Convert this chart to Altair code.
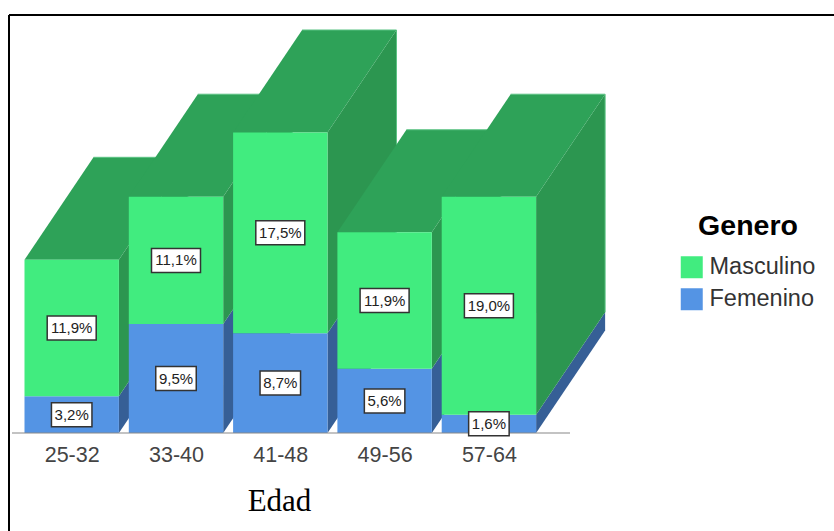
import altair as alt
import pandas as pd

# Survey shares (%) by age group and sex
edades = ["25-32", "33-40", "41-48", "49-56", "57-64"]
femenino = [3.2, 9.5, 8.7, 5.6, 1.6]
masculino = [11.9, 11.1, 17.5, 11.9, 19.0]
generos = ["Masculino", "Femenino"]

FRONT = {"Masculino": "#41EC7F", "Femenino": "#5494E4"}
SIDE = {"Masculino": "#2C9650", "Femenino": "#365F96"}
TOP = "#2EA258"
EDGE = "#5CC384"
INK = "#222222"

PX_X = 104.3           # pixels per age group
PX_Y = 11.47           # pixels per percentage point
HALF = 47.2 / PX_X     # half bar width, in age-group units
DX = 69 / PX_X         # oblique depth, horizontal
DY = 102.5 / PX_Y      # oblique depth, vertical
C0 = 71.7              # pixel position of the first group's centre
W, H = 834, 433

x_scale = alt.Scale(domain=[-C0 / PX_X, (W - C0) / PX_X], range=[0, W], nice=False, zero=False)
y_scale = alt.Scale(domain=[0, H / PX_Y], range=[H, 0], nice=False, zero=False)

segments = []
for i, edad in enumerate(edades):
    f, m = femenino[i], masculino[i]
    segments.append(dict(i=i, genero="Femenino", lo=0.0, hi=f, val=f))
    segments.append(dict(i=i, genero="Masculino", lo=f, hi=f + m, val=m))
seg = pd.DataFrame(segments)
seg["l"] = seg.i - HALF
seg["r"] = seg.i + HALF
seg["mid"] = (seg.lo + seg.hi) / 2
seg["label"] = seg.val.map(lambda v: f"{v:.1f}%".replace(".", ","))
box_w = seg.label.str.len().map({4: 40.5, 5: 49}) / PX_X
seg["bl"] = seg.i - box_w / 2
seg["br"] = seg.i + box_w / 2
seg["bb"] = seg.mid - 12 / PX_Y
seg["bt"] = seg.mid + 12 / PX_Y

side_rows = []
for s in segments:
    r = s["i"] + HALF
    side_rows.append(dict(i=s["i"], genero=s["genero"], x=r, lo=s["lo"], hi=s["hi"]))
    side_rows.append(dict(i=s["i"], genero=s["genero"], x=r + DX, lo=s["lo"] + DY, hi=s["hi"] + DY))
side = pd.DataFrame(side_rows)

top_rows = []
for s in segments:
    if s["genero"] == "Masculino":
        top_rows.append(dict(i=s["i"], y=s["hi"], a=s["i"] - HALF, b=s["i"] + HALF))
        top_rows.append(dict(i=s["i"], y=s["hi"] + DY, a=s["i"] - HALF + DX, b=s["i"] + HALF + DX))
top = pd.DataFrame(top_rows)

# Pale highlight along the back and right edges of each bar
total = pd.Series(femenino) + pd.Series(masculino)
rim_top = pd.DataFrame({
    "i": range(len(edades)),
    "a": [i - HALF + DX for i in range(len(edades))],
    "b": [i + HALF + DX for i in range(len(edades))],
    "y": total + DY,
})
rim_right = pd.DataFrame({
    "i": range(len(edades)),
    "x": [i + HALF + DX for i in range(len(edades))],
    "lo": pd.Series(femenino) + DY,
    "hi": total + DY,
})

# Shared age axis: labels under the baseline and the axis title
x_axis = alt.Axis(
    values=list(range(len(edades))),
    labelExpr="[" + ",".join(f"'{e}'" for e in edades) + "][datum.value]",
    domain=False, ticks=False, grid=False,
    labelFont="Liberation Sans", labelFontSize=21.5, labelColor="#444444", labelPadding=11,
    title="Edad", titleFont="Liberation Serif", titleFontSize=31, titleFontWeight="normal",
    titleColor="#000000", titleX=279, titleY=53, titleAlign="center",
)


def xq(field):
    return alt.X(field, scale=x_scale, axis=x_axis)


def yq(field):
    return alt.Y(field, scale=y_scale, axis=None)


layers = []

# Bars run left to right so each one overlaps its neighbour's side face
for i in range(len(edades)):
    for g in ["Femenino", "Masculino"]:
        layers.append(
            alt.Chart(side[(side.i == i) & (side.genero == g)])
            .mark_area(color=SIDE[g], orient="vertical")
            .encode(x=xq("x:Q"), y=yq("lo:Q"), y2="hi:Q")
        )
    layers.append(
        alt.Chart(top[top.i == i])
        .mark_area(color=TOP, orient="horizontal")
        .encode(y=yq("y:Q"), x=xq("a:Q"), x2="b:Q")
    )
    layers.append(
        alt.Chart(rim_top[rim_top.i == i])
        .mark_rule(color=EDGE, strokeWidth=1)
        .encode(x=xq("a:Q"), x2="b:Q", y=yq("y:Q"))
    )
    layers.append(
        alt.Chart(rim_right[rim_right.i == i])
        .mark_rule(color=EDGE, strokeWidth=1)
        .encode(x=xq("x:Q"), y=yq("lo:Q"), y2="hi:Q")
    )
    layers.append(
        alt.Chart(seg[seg.i == i])
        .mark_rect()
        .encode(
            x=xq("l:Q"), x2="r:Q",
            y=yq("lo:Q"), y2="hi:Q",
            color=alt.Color(
                "genero:N",
                scale=alt.Scale(domain=generos, range=[FRONT[g] for g in generos]),
                legend=alt.Legend(
                    title="Genero", orient="none", legendX=680, legendY=212,
                    titleFont="Liberation Sans", titleFontSize=28.5, titleFontWeight="bold",
                    titleColor="#000000", titlePadding=15, titleAnchor="middle",
                    labelFont="Liberation Sans", labelFontSize=23.5, labelColor="#333333",
                    symbolType="square", symbolSize=484, symbolStrokeWidth=0,
                    symbolOpacity=1, rowPadding=7, labelOffset=6,
                ),
            ),
        )
    )

# Baseline under the bars
base = pd.DataFrame({"a": [(12 - C0) / PX_X], "b": [(570 - C0) / PX_X], "y": [0.0]})
layers.append(
    alt.Chart(base).mark_rule(color="#888888", strokeWidth=1.2).encode(
        x=xq("a:Q"), x2="b:Q", y=yq("y:Q"),
    )
)

# Boxed value labels
layers.append(
    alt.Chart(seg).mark_rect(fill="#FFFFFF", stroke="#333333", strokeWidth=1.5).encode(
        x=xq("bl:Q"), x2="br:Q", y=yq("bb:Q"), y2="bt:Q",
    )
)
layers.append(
    alt.Chart(seg).mark_text(font="Liberation Sans", fontSize=15, color=INK, baseline="middle").encode(
        x=xq("i:Q"), y=yq("mid:Q"), text="label:N",
    )
)

# Frame lines along the top and left edges
layers.append(
    alt.Chart(pd.DataFrame({"k": [0]})).mark_rule(color="#000000", strokeWidth=2).encode(
        x=alt.value(9), x2=alt.value(834), y=alt.value(15)
    )
)
layers.append(
    alt.Chart(pd.DataFrame({"k": [0]})).mark_rule(color="#000000", strokeWidth=2).encode(
        x=alt.value(9), y=alt.value(15), y2=alt.value(531)
    )
)

chart = (
    alt.layer(*layers)
    .properties(
        width=W, height=H,
        padding={"left": 0, "top": 0, "right": 0, "bottom": 98},
        autosize=alt.AutoSizeParams(type="none"),
        background="#FFFFFF",
    )
    .configure_view(stroke=None)
)

chart.save("out.html", embed_options={"renderer": "svg", "actions": False})
